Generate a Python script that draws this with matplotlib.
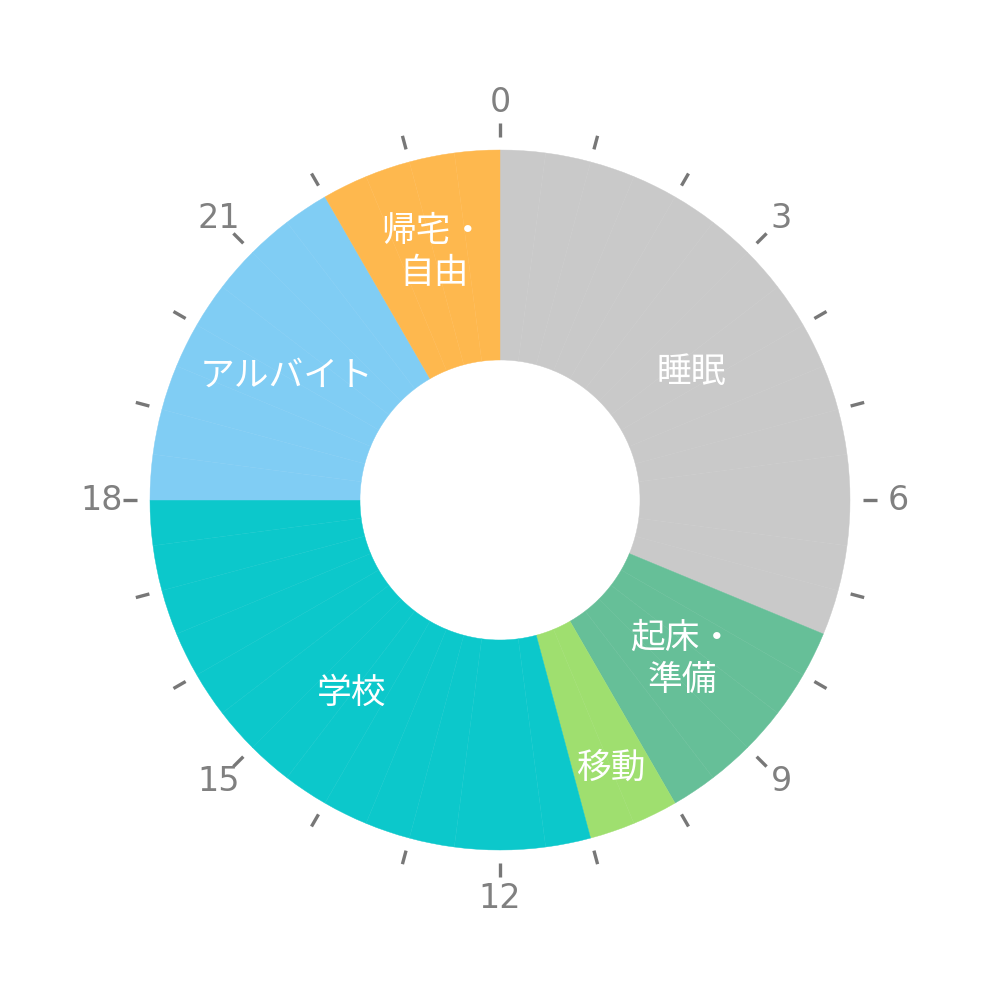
import numpy as np
import matplotlib.pyplot as plt
from matplotlib.patches import Wedge

plt.rcParams['font.family'] = ['Noto Sans CJK JP', 'DejaVu Sans']

# daily schedule, hours starting at 0:00
activities = ['睡眠', '起床・\n準備', '移動', '学校', 'アルバイト', '帰宅・\n自由']
hours = [7.5, 2.5, 1.0, 7.0, 4.0, 2.0]
colors = ['#c9c9c9', '#66bf98', '#9fdf6f', '#0cc8cb', '#80cdf4', '#feb84e']
hour_labels = [0, 3, 6, 9, 12, 15, 18, 21]

R_OUT, R_IN = 350, 140
SLOT = 0.5  # the schedule is stored in half-hour slots
# distance of each activity label from the centre
label_r = [230, 242, 290, 244, 247, 256]


def clock_to_math(h):
    # clock hour (clockwise from top, 24h) -> matplotlib degrees
    return 90 - h * 15


fig = plt.figure(figsize=(10, 10), dpi=100)
ax = fig.add_axes([0, 0, 1, 1])
ax.set_xlim(-500, 500)
ax.set_ylim(-500, 500)
ax.set_aspect('equal')
ax.axis('off')

start = 0.0
for name, dur, col, r in zip(activities, hours, colors, label_r):
    n = int(round(dur / SLOT))
    for k in range(n):
        h0 = start + k * SLOT
        h1 = h0 + SLOT
        w = Wedge((0, 0), R_OUT, clock_to_math(h1), clock_to_math(h0),
                  width=R_OUT - R_IN, facecolor=col, edgecolor=col, lw=0.3)
        ax.add_patch(w)
    mid = np.deg2rad(clock_to_math(start + dur / 2))
    ax.text(r * np.cos(mid), r * np.sin(mid), name, color='white',
            fontsize=25, ha='center', va='center', linespacing=1.25)
    start += dur

# hour ticks around the ring
for h in range(24):
    a = np.deg2rad(clock_to_math(h))
    ax.plot([363 * np.cos(a), 377 * np.cos(a)], [363 * np.sin(a), 377 * np.sin(a)],
            color='#777777', lw=2.4, solid_capstyle='butt')

for h in hour_labels:
    a = np.deg2rad(clock_to_math(h))
    ax.text(398 * np.cos(a), 398 * np.sin(a), str(h), color='#808080',
            fontsize=24, ha='center', va='center', family=['DejaVu Sans'])

fig.savefig('out.png', dpi=100, facecolor='white')
